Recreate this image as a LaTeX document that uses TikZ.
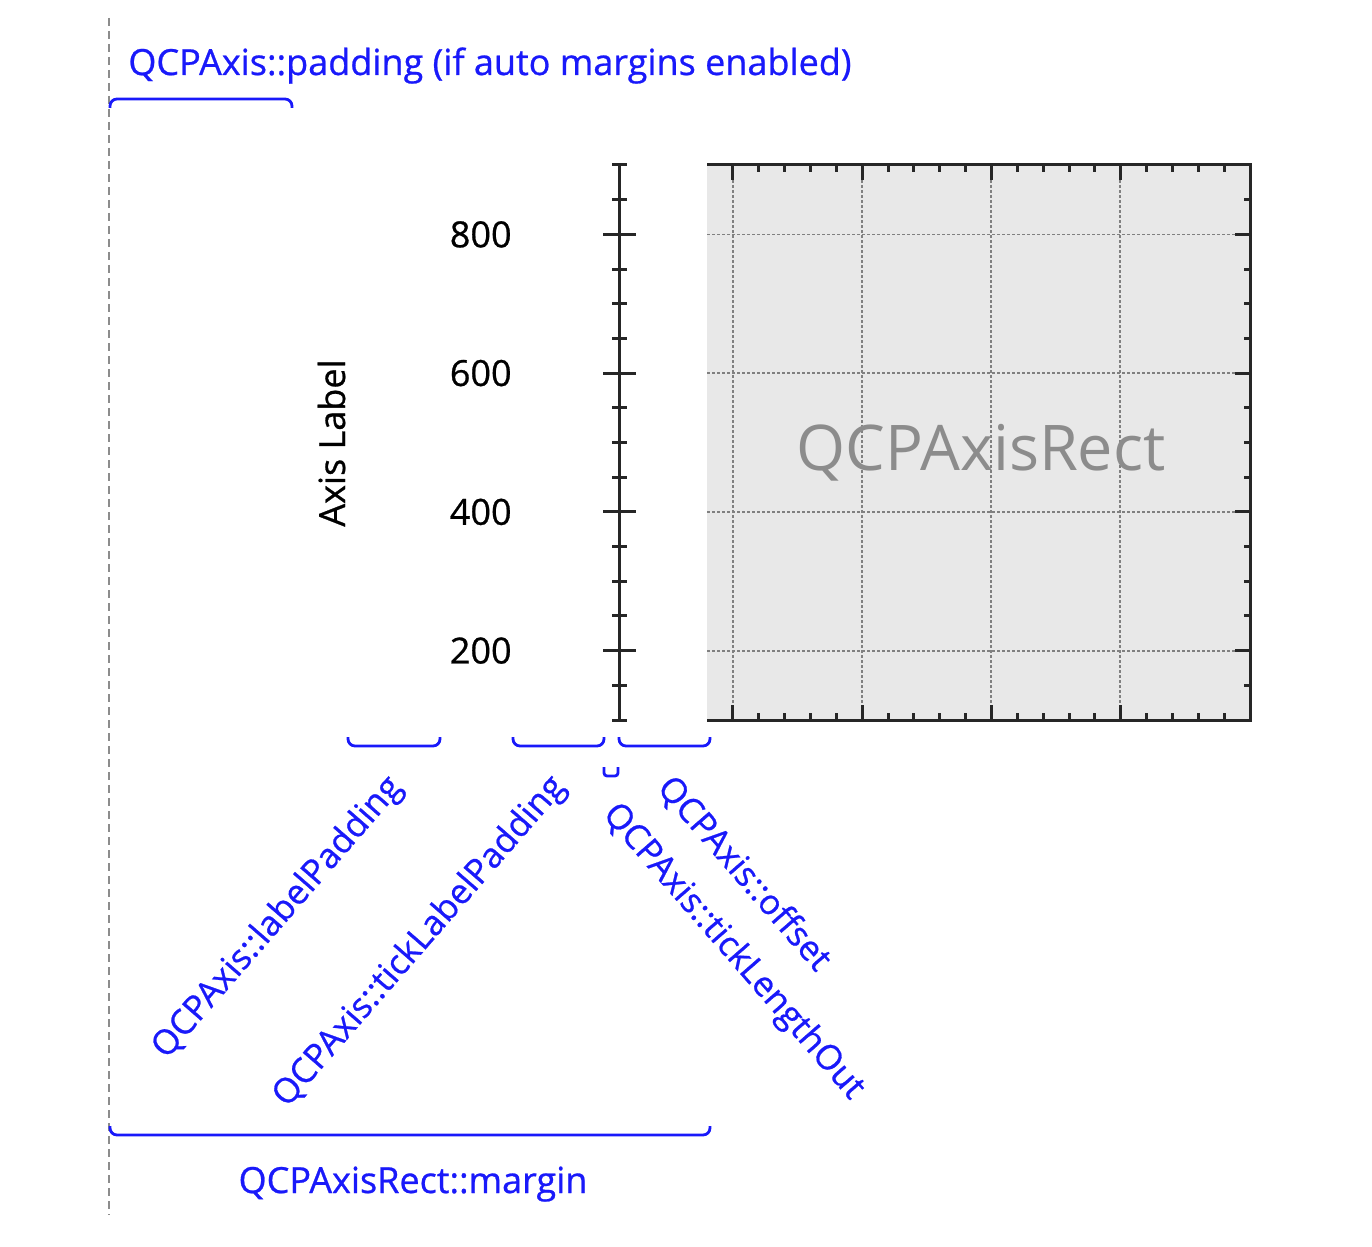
\documentclass[tikz,border=0pt]{standalone}
\usepackage{fontspec}
\setmainfont{Open Sans}
\newfontfamily\heavyfont{Open Sans}[FakeBold=0.7]
\usepackage{tikz}
\usetikzlibrary{positioning}

\definecolor{annot}{RGB}{25,25,250}
\definecolor{rectfill}{RGB}{232,232,232}

\begin{document}
\begin{tikzpicture}[x=0.5pt,y=-0.5pt,line cap=butt,
                    font=\heavyfont\fontsize{18}{21}\selectfont]
  \tikzstyle{axisline}=[draw=black!85,line width=1.5pt]
  \tikzstyle{gridline}=[draw=black!50,line width=0.9pt,dash pattern=on 1.5pt off 1pt]
  \tikzstyle{brace}=[draw=annot,line width=1.4pt,rounded corners=3.5pt]
  \tikzstyle{note}=[text=annot,inner sep=0pt]
  \tikzstyle{slanted}=[note,font=\heavyfont\fontsize{17.3}{20}\selectfont]

  \useasboundingbox (0,0) rectangle (1372,1247);

  % margin boundary
  \coordinate (topEnd) at (109,18);
  \coordinate (botEnd) at (109,1215);
  \draw[black!45,line width=1.4pt,dash pattern=on 4pt off 2.5pt] (topEnd) -- (botEnd);

  % axis rect
  \coordinate (rectNW) at (707,165);
  \coordinate (rectSE) at (1250,720);
  \fill[rectfill] (rectNW) rectangle (rectSE);
  \foreach \gx in {733,862,991,1120}
    \draw[gridline] (\gx,165) -- (\gx,720);
  \foreach \gy in {234.4,373.1,511.9,650.6}
    \draw[gridline] (707,\gy) -- (1250,\gy);
  \node[text=black!45,anchor=base,inner sep=0pt,font=\normalfont\fontsize{31.5}{36}\selectfont]
       (rectLabel) at (981,470) {QCPAxisRect};

  \draw[axisline] (rectNW) -- (rectNW -| rectSE) -- (rectSE) -- (rectSE -| rectNW);
  \foreach \k in {1,...,20} {
    \draw[axisline] (707+25.857*\k,165) -- ++(0,7);
    \draw[axisline] (707+25.857*\k,720) -- ++(0,-7);
  }
  \foreach \k in {1,6,11,16} {
    \draw[axisline] (707+25.857*\k,165) -- ++(0,15);
    \draw[axisline] (707+25.857*\k,720) -- ++(0,-15);
  }
  \foreach \k in {1,...,15}
    \draw[axisline] (1250,165+34.6875*\k) -- ++(-6,0);
  \foreach \k in {2,6,10,14}
    \draw[axisline] (1250,165+34.6875*\k) -- ++(-15,0);

  % left axis, offset from the rect
  \coordinate (axisTop) at (619,165);
  \coordinate (axisBot) at (619,720);
  \draw[axisline] (axisTop) -- (axisBot);
  \foreach \k in {0,...,16}
    \draw[axisline] (612,165+34.6875*\k) -- ++(15,0);
  \foreach \k in {2,6,10,14}
    \draw[axisline] (603,165+34.6875*\k) -- ++(33,0);

  \foreach \v/\ty in {800/234.4,600/373.1,400/511.9,200/650.6}
    \node[anchor=east,inner sep=0pt] (tick\v) at (512,\ty) {\v};
  \node[rotate=90,anchor=base,inner sep=0pt] (axisLabel) at (345,443) {Axis Label};

  % annotations
  \node[note,anchor=base west] (paddingLabel) at (128,75) {QCPAxis::padding (if auto margins enabled)};
  \draw[brace] (110,108) -- (110,99) -- (292,99) -- (292,108);

  \draw[brace] (348,737) -- (348,746) -- (440,746) -- (440,737);
  \draw[brace] (513,737) -- (513,746) -- (604,746) -- (604,737);
  \draw[brace] (619,737) -- (619,746) -- (710,746) -- (710,737);
  \draw[brace,rounded corners=1.5pt] (604,767) -- (604,776) -- (618,776) -- (618,767);

  \node[slanted,rotate=49] (labelPad) at (278,918) {QCPAxis::labelPadding};
  \node[slanted,rotate=49] (tickLabelPad) at (420,942) {QCPAxis::tickLabelPadding};
  \node[slanted,rotate=-49] (offsetLabel) at (744,874) {QCPAxis::offset};
  \node[slanted,rotate=-49] (tickLenLabel) at (733,952) {QCPAxis::tickLengthOut};

  \draw[brace] (110,1126) -- (110,1135) -- (710,1135) -- (710,1126);
  \node[note,anchor=base] (marginLabel) at (413,1193) {QCPAxisRect::margin};
\end{tikzpicture}
\end{document}
